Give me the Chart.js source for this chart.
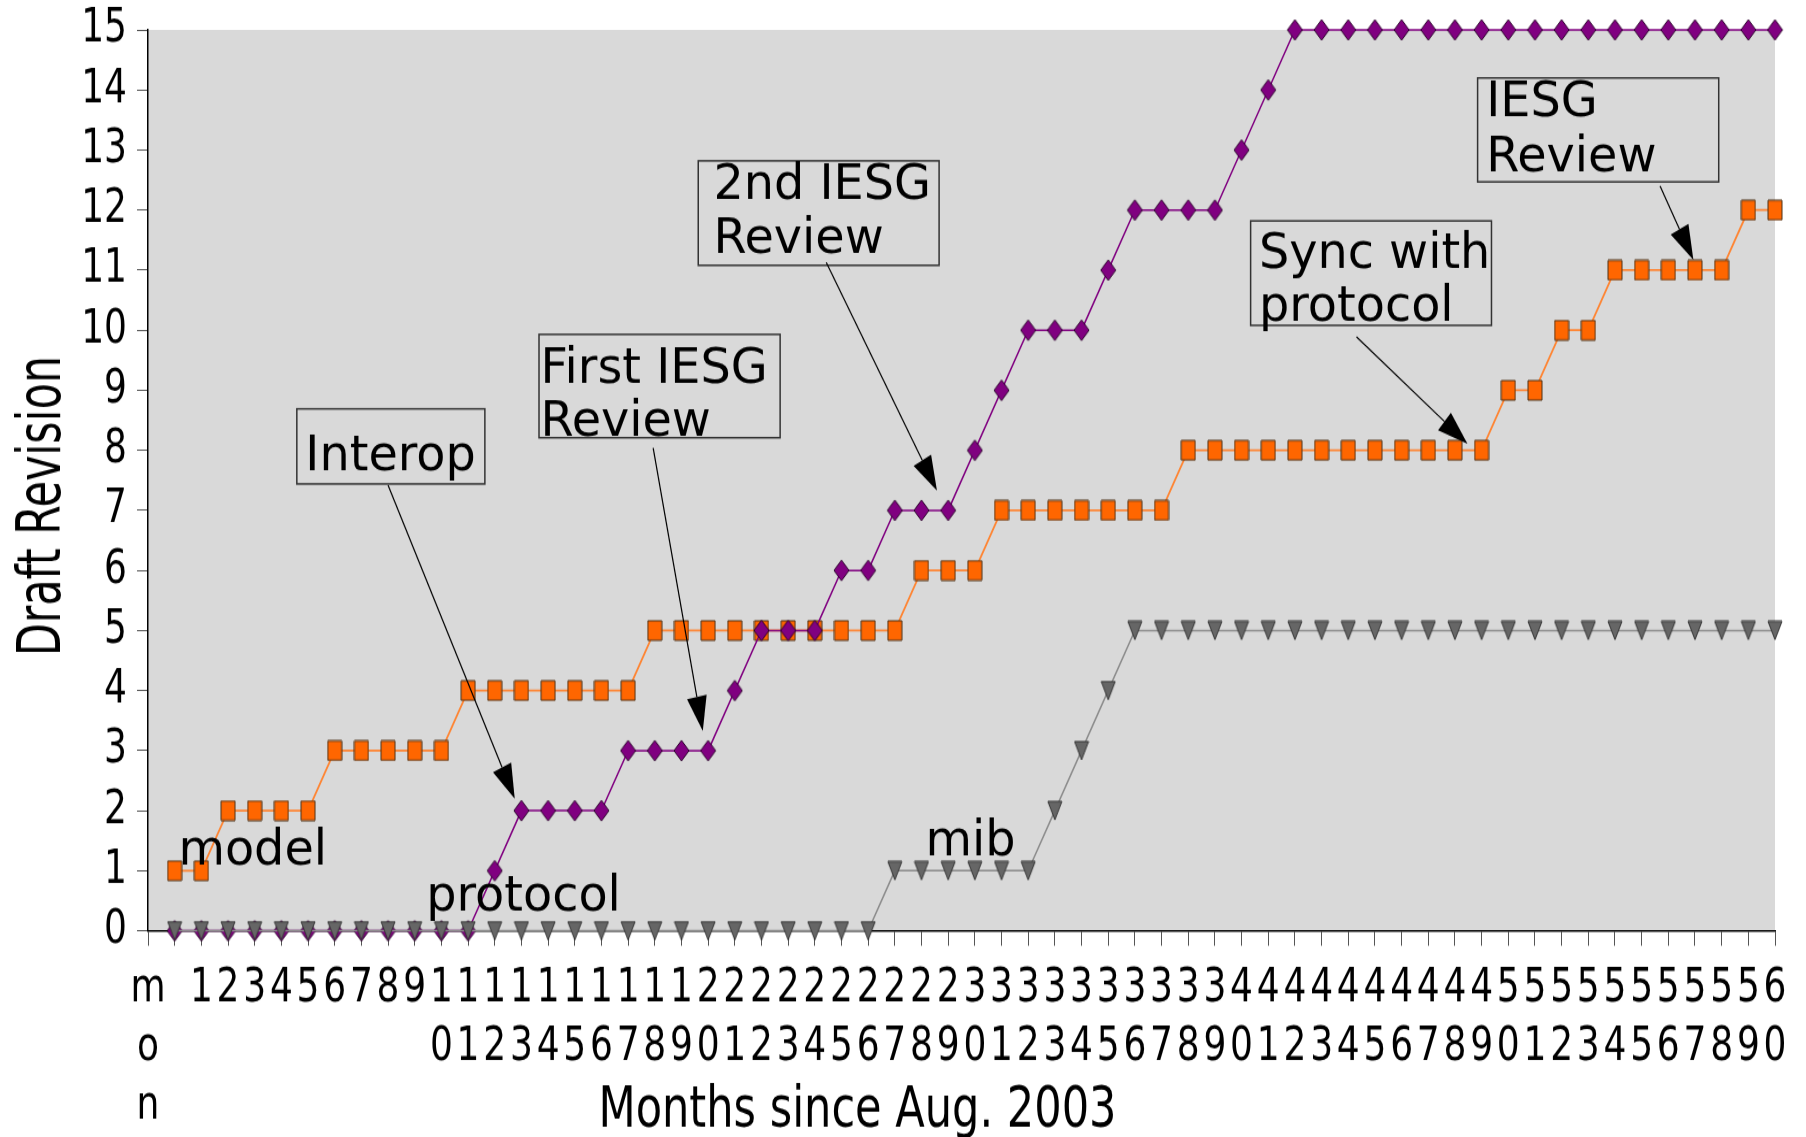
<!DOCTYPE html>
<html>
<head>
<meta charset="utf-8">
<title>Draft Revision</title>
<script src="https://cdn.jsdelivr.net/npm/chart.js@4.4.1/dist/chart.umd.min.js"></script>
<style>
  html, body { margin: 0; padding: 0; background: #fff; overflow: hidden; }
</style>
</head>
<body>
<!-- the reference is drawn a little taller than wide, so the canvas is stretched vertically -->
<canvas id="myChart" width="1806" height="989" style="display:block;width:1806px;height:1137px"></canvas>
<script>
const ctx = document.getElementById('myChart').getContext('2d');

// months since Aug. 2003 (x values of every point)
const months = [0, 1, 2, 3, 4, 5, 6, 7, 8, 9, 10, 11, 12, 13, 14, 15, 16, 17, 18, 19, 20,
                21, 22, 23, 24, 25, 26, 27, 28, 29, 30, 31, 32, 33, 34, 35, 36, 37, 38, 39, 40,
                41, 42, 43, 44, 45, 46, 47, 48, 49, 50, 51, 52, 53, 54, 55, 56, 57, 58, 59, 60];

// draft revision of each document, month by month
const model = [1, 1, 2, 2, 2, 2, 3, 3, 3, 3, 3, 4, 4, 4, 4, 4, 4, 4, 5, 5, 5,
               5, 5, 5, 5, 5, 5, 5, 6, 6, 6, 7, 7, 7, 7, 7, 7, 7, 8, 8, 8,
               8, 8, 8, 8, 8, 8, 8, 8, 8, 9, 9, 10, 10, 11, 11, 11, 11, 11, 12, 12];
const protocol = [0, 0, 0, 0, 0, 0, 0, 0, 0, 0, 0, 0, 1, 2, 2, 2, 2, 3, 3, 3, 3,
                  4, 5, 5, 5, 6, 6, 7, 7, 7, 8, 9, 10, 10, 10, 11, 12, 12, 12, 12, 13,
                  14, 15, 15, 15, 15, 15, 15, 15, 15, 15, 15, 15, 15, 15, 15, 15, 15, 15, 15, 15];
const mib = [0, 0, 0, 0, 0, 0, 0, 0, 0, 0, 0, 0, 0, 0, 0, 0, 0, 0, 0, 0, 0,
             0, 0, 0, 0, 0, 0, 1, 1, 1, 1, 1, 1, 2, 3, 4, 5, 5, 5, 5, 5,
             5, 5, 5, 5, 5, 5, 5, 5, 5, 5, 5, 5, 5, 5, 5, 5, 5, 5, 5, 5];

// tick labels: the axis starts one step before month 0
const xTickValues = [-1, ...months];
const xTickLabels = ['mon', '', '1', '2', '3', '4', '5', '6', '7', '8', '9', '10',
                     '11', '12', '13', '14', '15', '16', '17', '18', '19', '20',
                     '21', '22', '23', '24', '25', '26', '27', '28', '29', '30',
                     '31', '32', '33', '34', '35', '36', '37', '38', '39', '40',
                     '41', '42', '43', '44', '45', '46', '47', '48', '49', '50',
                     '51', '52', '53', '54', '55', '56', '57', '58', '59', '60'];
const yTickValues = [0, 1, 2, 3, 4, 5, 6, 7, 8, 9, 10, 11, 12, 13, 14, 15];

// call-outs, placed in data units: box corners, text baselines, arrow start/tip
const callouts = [
    {lines: ['Interop'], box: [4.58, 8.69, 11.63, 7.44], textX: 4.9, base: [7.67], arrow: [8.0, 7.42, 12.75, 2.2]},
    {lines: ['First IESG', 'Review'], box: [13.66, 9.93, 22.7, 8.21], textX: 13.72, base: [9.13, 8.25], arrow: [17.94, 8.04, 19.8, 3.33]},
    {lines: ['2nd IESG', 'Review'], box: [19.63, 12.82, 28.66, 11.08], textX: 20.2, base: [12.19, 11.29], arrow: [24.43, 11.13, 28.58, 7.33]},
    {lines: ['Sync with', 'protocol'], box: [40.34, 11.82, 49.37, 10.08], textX: 40.65, base: [11.04, 10.16], arrow: [44.31, 9.89, 48.47, 8.11]},
    {lines: ['IESG', 'Review'], box: [48.85, 14.2, 57.89, 12.47], textX: 49.17, base: [13.56, 12.65], arrow: [55.69, 12.4, 56.94, 11.17]}
];
const seriesNames = [
    {text: 'model', x: 0.14, y: 1.11},
    {text: 'protocol', x: 9.43, y: 0.34},
    {text: 'mib', x: 28.15, y: 1.26}
];

function makeMarker(shape, fill, stroke, w, h) {
    const c = document.createElement('canvas');
    c.width = w + 2;
    c.height = h + 2;
    const g = c.getContext('2d');
    g.beginPath();
    if (shape === 'rect') {
        g.rect(1, 1, w, h);
    } else if (shape === 'diamond') {
        g.moveTo(1 + w / 2, 1);
        g.lineTo(1 + w, 1 + h / 2);
        g.lineTo(1 + w / 2, 1 + h);
        g.lineTo(1, 1 + h / 2);
        g.closePath();
    } else {
        g.moveTo(1, 1);
        g.lineTo(1 + w, 1);
        g.lineTo(1 + w / 2, 1 + h);
        g.closePath();
    }
    g.fillStyle = fill;
    g.fill();
    g.lineWidth = 1;
    g.strokeStyle = stroke;
    g.stroke();
    return c;
}

const squareMark = makeMarker('rect', '#ff6600', '#4d3319', 14, 17);
const diamondMark = makeMarker('diamond', '#800080', '#2a002a', 15, 18);
const triangleMark = makeMarker('triangle', '#666666', '#333333', 14, 16);

function scaledText(c, str, x, y, font, sx, align) {
    c.save();
    c.translate(x, y);
    c.scale(sx, 1);
    c.font = font;
    c.textAlign = align || 'left';
    c.textBaseline = 'alphabetic';
    c.fillText(str, 0, 0);
    c.restore();
}

const extras = {
    id: 'extras',
    beforeDraw(chart) {
        const a = chart.chartArea;
        const c = chart.ctx;
        c.save();
        c.fillStyle = '#d9d9d9';
        c.fillRect(a.left, a.top, a.right - a.left, a.bottom - a.top);
        c.restore();
    },
    afterDraw(chart) {
        const c = chart.ctx;
        const xs = chart.scales.x;
        const ys = chart.scales.y;
        const X = v => xs.getPixelForValue(v);
        const Y = v => ys.getPixelForValue(v);
        const noteFont = '43px "DejaVu Sans"';

        c.save();
        c.fillStyle = '#000';
        callouts.forEach(n => {
            const [x0, y0, x1, y1] = n.box;
            c.strokeStyle = '#333';
            c.lineWidth = 1.5;
            c.strokeRect(X(x0), Y(y0), X(x1) - X(x0), Y(y1) - Y(y0));
            n.lines.forEach((t, i) => scaledText(c, t, X(n.textX), Y(n.base[i]), noteFont, 1.11));

            const [ax, ay, bx, by] = n.arrow;
            const sx = X(ax), sy = Y(ay), tx = X(bx), ty = Y(by);
            const len = Math.hypot(tx - sx, ty - sy);
            const dx = (tx - sx) / len, dy = (ty - sy) / len;
            const L = 30, W = 10;
            c.strokeStyle = '#000';
            c.lineWidth = 1.2;
            c.beginPath();
            c.moveTo(sx, sy);
            c.lineTo(tx - dx * L, ty - dy * L);
            c.stroke();
            c.beginPath();
            c.moveTo(tx, ty);
            c.lineTo(tx - dx * L - dy * W, ty - dy * L + dx * W);
            c.lineTo(tx - dx * L + dy * W, ty - dy * L - dx * W);
            c.closePath();
            c.fill();
        });
        seriesNames.forEach(s => scaledText(c, s.text, X(s.x), Y(s.y), noteFont, 1.11));

        // axis titles
        scaledText(c, 'Months since Aug. 2003', X(25.6), chart.height - 9,
                   '50px "DejaVu Sans Condensed"', 0.958, 'center');
        c.save();
        c.translate(60, Y(7.07));
        c.rotate(-Math.PI / 2);
        c.scale(0.69, 1);
        c.font = '60px "DejaVu Sans Condensed"';
        c.textAlign = 'center';
        c.textBaseline = 'alphabetic';
        c.fillText('Draft Revision', 0, 0);
        c.restore();
        c.restore();
    }
};

const toPoints = arr => arr.map((v, i) => ({x: months[i], y: v}));

const myChart = new Chart(ctx, {
    type: 'line',
    data: {
        datasets: [{
            label: 'mib',
            data: toPoints(mib),
            borderColor: '#8c8c8c',
            borderWidth: 1.5,
            pointStyle: triangleMark,
            pointRadius: 8,
            order: 1,
            clip: false
        }, {
            label: 'protocol',
            data: toPoints(protocol),
            borderColor: '#800080',
            borderWidth: 1.5,
            pointStyle: diamondMark,
            pointRadius: 8,
            order: 2,
            clip: false
        }, {
            label: 'model',
            data: toPoints(model),
            borderColor: '#ff8533',
            borderWidth: 1.8,
            pointStyle: squareMark,
            pointRadius: 8,
            order: 3,
            clip: false
        }]
    },
    options: {
        responsive: false,
        devicePixelRatio: 1,
        animation: false,
        events: [],
        layout: {padding: {top: 15, right: 31, bottom: 0, left: 0}},
        plugins: {
            legend: {display: false},
            tooltip: {enabled: false}
        },
        scales: {
            x: {
                type: 'linear',
                min: -1,
                max: 60,
                afterBuildTicks: s => { s.ticks = xTickValues.map(v => ({value: v})); },
                afterFit: s => { s.height = 179.4; },
                ticks: {
                    autoSkip: false,
                    maxRotation: 0,
                    minRotation: 0,
                    padding: 12,
                    color: '#000',
                    font: {family: 'DejaVu Sans Condensed', size: 40, lineHeight: 1.28},
                    callback: (v, i) => xTickLabels[i].split('')
                },
                grid: {drawOnChartArea: false, color: '#555', tickLength: 13},
                border: {color: '#000', width: 1.5}
            },
            y: {
                type: 'linear',
                min: 0,
                max: 15,
                afterBuildTicks: s => { s.ticks = yTickValues.map(v => ({value: v})); },
                afterFit: s => { s.width = 148; },
                ticks: {
                    autoSkip: false,
                    padding: 10,
                    color: '#000',
                    font: {family: 'DejaVu Sans Condensed', size: 40, lineHeight: 0.8}
                },
                grid: {drawOnChartArea: false, color: '#555', tickLength: 11},
                border: {color: '#000', width: 1.5}
            }
        }
    },
    plugins: [extras]
});
</script>
</body>
</html>
